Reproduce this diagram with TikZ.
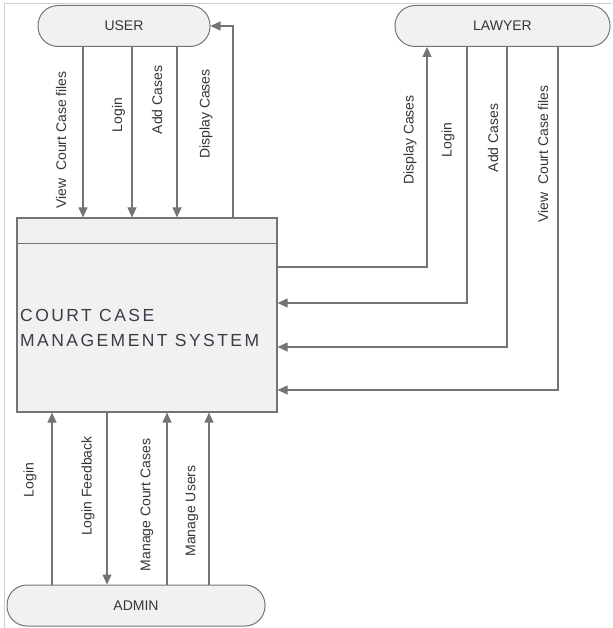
\documentclass[tikz,border=0pt]{standalone}
\usepackage{fontspec}
\setmainfont{Liberation Sans}
\usetikzlibrary{arrows.meta, calc}
\definecolor{lineGray}{HTML}{747474}
\definecolor{boxFill}{HTML}{f1f1f1}
\definecolor{txtGray}{HTML}{353535}
\definecolor{sysTxt}{HTML}{3c3c48}
\definecolor{frameGray}{HTML}{cfcfcf}
\begin{document}
\begin{tikzpicture}[x=1pt,y=-1pt,
  ent/.style={draw=lineGray, line width=1pt, fill=boxFill, rounded corners=20pt, minimum height=41pt, inner sep=0pt, font=\fontsize{14}{16}\selectfont, text=txtGray},
  flow/.style={draw=lineGray, line width=1.2pt, -{Triangle[length=10pt,width=9pt]}},
  plain/.style={draw=lineGray, line width=1.2pt},
  lbl/.style={rotate=90, inner sep=0pt, font=\fontsize{14}{15}\selectfont, text=txtGray}]
\useasboundingbox (0,0) rectangle (612,628);
\draw[frameGray] (4,628) -- (4,3) -- (612,3);
% external entities
\node[ent, minimum width=172pt] (user) at (124,26) {USER};
\node[ent, minimum width=215pt] (lawyer) at (502.5,26) {LAWYER};
\node[ent, minimum width=258pt] (admin) at (136,605.5) {ADMIN};
% process
\node[draw=lineGray, line width=1.2pt, fill=boxFill, minimum width=260pt, minimum height=194pt, inner sep=0pt] (ccms) at (147,315) {};
\draw[plain] ($(ccms.north west)+(0,26)$) -- ($(ccms.north east)+(0,26)$);
\node[anchor=west, align=left, inner sep=0pt, text=sysTxt, font=\fontsize{17.5}{25}\selectfont\addfontfeature{LetterSpace=14}] (title) at (20,328) {COURT CASE\\MANAGEMENT SYSTEM};
% user flows
\draw[flow] (83,0 |- user.south) -- (83,0 |- ccms.north);
\draw[flow] (132,0 |- user.south) -- (132,0 |- ccms.north);
\draw[flow] (177,0 |- user.south) -- (177,0 |- ccms.north);
\draw[flow] (233,0 |- ccms.north) |- (user.east);
\node[lbl] (u1) at (61,140) {View\ \ Court Case files};
\node[lbl] (u2) at (118.5,115) {Login};
\node[lbl] (u3) at (157,100) {Add Cases};
\node[lbl] (u4) at (206,114) {Display Cases};
% lawyer flows
\draw[flow] (ccms.east |- 0,267) -| (427,0 |- lawyer.south);
\draw[flow] (467,0 |- lawyer.south) |- (ccms.east |- 0,303);
\draw[flow] (507,0 |- lawyer.south) |- (ccms.east |- 0,347);
\draw[flow] (558,0 |- lawyer.south) |- (ccms.east |- 0,390);
\node[lbl] (l1) at (410,140) {Display Cases};
\node[lbl] (l2) at (448,140) {Login};
\node[lbl] (l3) at (493,138) {Add Cases};
\node[lbl] (l4) at (543,154) {View\ \ Court Case files};
% admin flows
\draw[flow] (52,0 |- admin.north) -- (52,0 |- ccms.south);
\draw[flow] (107,0 |- ccms.south) -- (107,0 |- admin.north);
\draw[flow] (167,0 |- admin.north) -- (167,0 |- ccms.south);
\draw[flow] (209,0 |- admin.north) -- (209,0 |- ccms.south);
\node[lbl] (a1) at (30,480) {Login};
\node[lbl] (a2) at (88,486) {Login Feedback};
\node[lbl] (a3) at (147,505) {Manage Court Cases};
\node[lbl] (a4) at (192,511) {Manage Users};
\end{tikzpicture}
\end{document}
